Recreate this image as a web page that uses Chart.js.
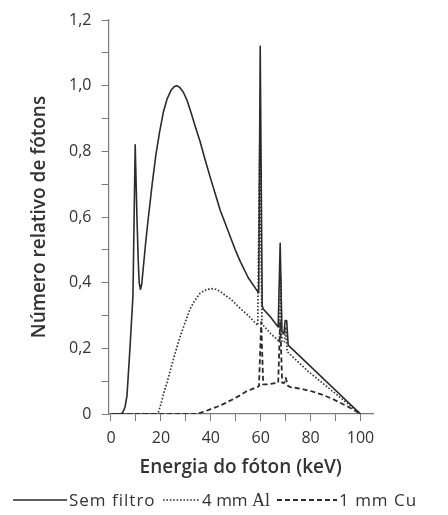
<!DOCTYPE html>
<html>
<head>
<meta charset="utf-8">
<script src="https://cdn.jsdelivr.net/npm/chart.js@4/dist/chart.umd.min.js"></script>
<style>
  html, body { margin: 0; padding: 0; background: #fff; }
  #wrap { position: relative; width: 448px; height: 515px; }
  #legend {
    position: absolute; left: 0; top: 0; width: 448px; height: 515px;
    font-family: "Open Sans", sans-serif; font-size: 17px; color: #333;
    white-space: nowrap; pointer-events: none;
  }
  #legend svg, #legend .lbl { position: absolute; }
  #legend .lbl { line-height: 20px; top: 490px; }
  .serif { font-family: "Liberation Serif", serif; font-size: 18px; }
</style>
</head>
<body>
<div id="wrap">
  <canvas id="chart" width="448" height="515"></canvas>
  <div id="legend"></div>
</div>
<script>
// energy (keV) / relative photon count
const semFiltroE = [0, 4, 4.8, 5.6, 6.4, 7.6, 8.8, 9.7, 10.4, 10.9, 11.3, 11.8, 12.3, 13, 14, 15, 16.5, 18, 19.5, 21, 22.5, 24, 25.3, 26.3, 27.5, 29, 30.5, 32, 34, 35.7, 37.7, 39.8, 41.8, 43.8, 45.8, 47.8, 49.8, 51.8, 55, 58.6, 59.2, 59.8, 60.6, 61, 64, 67, 67.8, 68.5, 69.3, 69.8, 70.4, 71, 100];
const semFiltroN = [0, 0, 0.006, 0.02, 0.055, 0.2, 0.36, 0.82, 0.6, 0.47, 0.4, 0.38, 0.395, 0.45, 0.53, 0.6, 0.7, 0.79, 0.86, 0.92, 0.96, 0.985, 0.997, 1.0, 0.995, 0.98, 0.955, 0.92, 0.87, 0.83, 0.775, 0.72, 0.67, 0.62, 0.58, 0.54, 0.5, 0.465, 0.415, 0.375, 0.37, 1.12, 0.33, 0.32, 0.295, 0.265, 0.52, 0.25, 0.245, 0.285, 0.285, 0.21, 0];

const alE = [0, 18, 19, 20, 21, 22.5, 25, 27.7, 30, 31.7, 33.5, 35.7, 38, 40, 42, 44, 46, 48, 50, 52, 55, 58.8, 59.6, 60.5, 61, 64, 67.5, 68, 68.5, 69.5, 70, 70.6, 79, 100];
const alN = [0, 0, 0.006, 0.03, 0.06, 0.097, 0.167, 0.236, 0.285, 0.32, 0.345, 0.368, 0.378, 0.382, 0.38, 0.372, 0.36, 0.35, 0.335, 0.32, 0.3, 0.27, 0.82, 0.275, 0.27, 0.245, 0.22, 0.42, 0.22, 0.22, 0.265, 0.19, 0.13, 0];

const cuE = [0, 34, 36, 38, 40, 42.5, 45, 47, 49, 51.5, 54, 56.5, 58.6, 59.3, 60.2, 61, 62.5, 67, 67.8, 68.6, 69.5, 70, 71, 72, 76, 80, 85, 89, 95, 100];
const cuN = [0, 0, 0.004, 0.009, 0.015, 0.022, 0.03, 0.038, 0.045, 0.056, 0.068, 0.076, 0.082, 0.085, 0.28, 0.09, 0.09, 0.095, 0.28, 0.095, 0.095, 0.11, 0.085, 0.082, 0.077, 0.07, 0.058, 0.045, 0.022, 0];

const xTicks = [0, 10, 20, 30, 40, 50, 60, 70, 80, 90, 100];
const yTicks = [0, 0.1, 0.2, 0.3, 0.4, 0.5, 0.6, 0.7, 0.8, 0.9, 1.0, 1.1, 1.2];

const seriesNames = ["Sem filtro", "4 mm Al", "1 mm Cu"];
const INK = "#2b2b2b";
const AXIS = "#7a7a7a";

function pts(xs, ys) {
  return xs.map((x, i) => ({ x, y: ys[i] }));
}

const yLabel = v => {
  const k = Math.round(v * 10);
  if (k === 0) return "0";
  if (k % 2) return "";
  return v.toFixed(1).replace(".", ",");
};

const tickFont = { family: "'Open Sans', sans-serif", size: 16 };
const titleFont = { family: "'Open Sans', sans-serif", size: 19, weight: "600" };

new Chart(document.getElementById("chart"), {
  type: "line",
  data: {
    datasets: [
      {
        label: seriesNames[0],
        data: pts(semFiltroE, semFiltroN),
        borderColor: INK,
        borderWidth: 1.6,
      },
      {
        label: seriesNames[1],
        data: pts(alE, alN),
        borderColor: "#3a3a3a",
        borderWidth: 1.7,
        borderDash: [1.6, 1.8],
      },
      {
        label: seriesNames[2],
        data: pts(cuE, cuN),
        borderColor: INK,
        borderWidth: 1.8,
        borderDash: [5, 3],
      },
    ],
  },
  options: {
    responsive: false,
    animation: false,
    elements: {
      point: { radius: 0 },
      line: { tension: 0, fill: false, borderJoinStyle: "round" },
    },
    layout: { padding: { left: 0, right: 75, top: 20, bottom: 36 } },
    plugins: { legend: { display: false }, tooltip: { enabled: false } },
    scales: {
      x: {
        type: "linear",
        min: -1,
        max: 105,
        afterBuildTicks: s => { s.ticks = xTicks.map(v => ({ value: v })); },
        grid: { drawOnChartArea: false, drawTicks: true, tickLength: 7, color: AXIS },
        border: { color: AXIS, width: 1.2 },
        ticks: {
          color: "#333",
          font: tickFont,
          padding: 8,
          maxRotation: 0,
          autoSkip: false,
          callback: v => (v % 20 === 0 ? String(v) : ""),
        },
        title: {
          display: true,
          text: "Energia do fóton (keV)",
          color: "#333",
          font: titleFont,
          padding: { top: 0, bottom: 0 },
        },
      },
      y: {
        min: 0,
        max: 1.2,
        afterFit: s => { s.width = 108.5; },
        afterBuildTicks: s => { s.ticks = yTicks.map(v => ({ value: v })); },
        grid: { drawOnChartArea: false, drawTicks: true, tickLength: 7, color: AXIS },
        border: { color: AXIS, width: 1.2 },
        ticks: {
          color: "#333",
          font: tickFont,
          padding: 10,
          autoSkip: false,
          callback: v => yLabel(v),
        },
        title: {
          display: true,
          text: "Número relativo de fótons",
          color: "#333",
          font: titleFont,
          padding: { top: 28, bottom: 0 },
        },
      },
    },
  },
});

// legend: line samples + labels, placed like the original figure
const legendStyles = [
  { dash: "", width: 1.6, x0: 13, x1: 67, tx: 69, ls: 1 },
  { dash: "1.6 1.8", width: 1.7, x0: 163, x1: 200, tx: 202, ls: 0 },
  { dash: "5 3", width: 1.8, x0: 277, x1: 337, tx: 339, ls: 1 },
];
const legend = document.getElementById("legend");
seriesNames.forEach((name, i) => {
  const st = legendStyles[i];
  const len = st.x1 - st.x0;
  const svg = `<svg style="left:${st.x0}px;top:495px" width="${len}" height="10"><line x1="0" y1="5" x2="${len}" y2="5" stroke="${INK}" stroke-width="${st.width}" stroke-dasharray="${st.dash}"/></svg>`;
  const txt = name.endsWith("Al") ? `4 mm <span class="serif">Al</span>` : name;
  legend.insertAdjacentHTML("beforeend", svg + `<span class="lbl" style="left:${st.tx}px;letter-spacing:${st.ls}px">${txt}</span>`);
});
</script>
</body>
</html>
